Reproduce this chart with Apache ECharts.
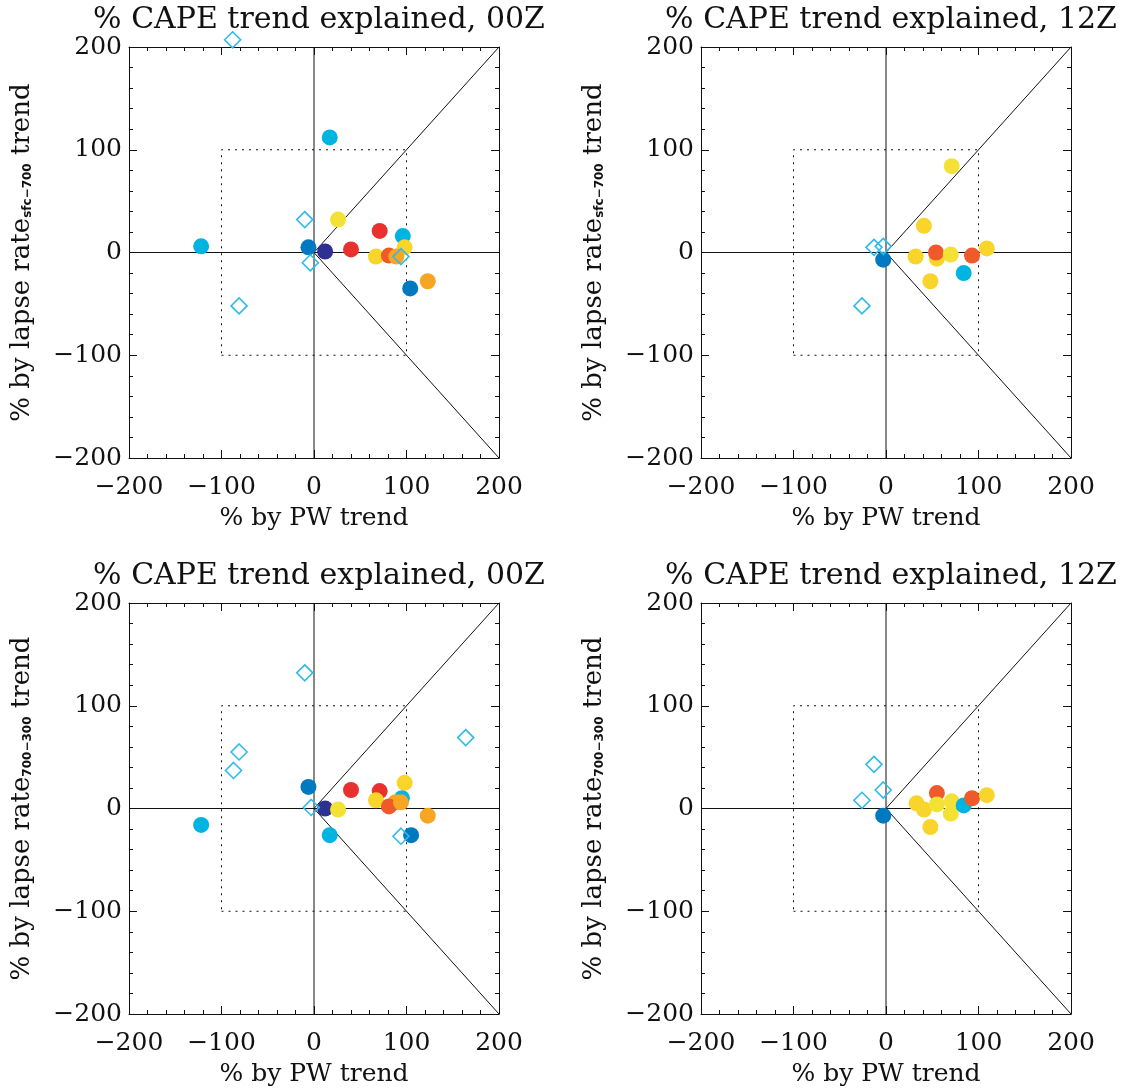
<!DOCTYPE html>
<html><head><meta charset="utf-8">
<script src="https://cdn.jsdelivr.net/npm/echarts@6/dist/echarts.min.js"></script>
<style>html,body{margin:0;padding:0;background:#fff}#c{width:1148px;height:1091px}</style>
</head><body><div id="c"></div>
<script>
// ---- data (x = % by PW trend, y = % by lapse-rate trend, group) ----
const titles = ['% CAPE trend explained, 00Z', '% CAPE trend explained, 12Z', '% CAPE trend explained, 00Z', '% CAPE trend explained, 12Z'];
const layerLabels = ['sfc\u2212700', 'sfc\u2212700', '700\u2212300', '700\u2212300'];
const xName = '% by PW trend';
const tickValues = [-200, -100, 0, 100, 200];

const pts00Low = [
  ['cyan', 17, 112], ['cyan', -122, 6], ['cyan', 96, 16], ['blue', -6, 5], ['blue', 104, -35],
  ['navy', 12, 1], ['red', 71, 21], ['red', 40, 3], ['yellow', 26, 32], ['gold', 67, -4],
  ['gold', 98, 5], ['orangered', 81, -3], ['orange', 89, -4], ['orange', 123, -28]
];
const dia00Low = [[-10, 32], [-4, -10], [-81, -52], [94, -4], [-88, 207]];

const pts12Low = [
  ['yellow', 71, 84], ['gold', 41, 26], ['blue', -3, -7], ['gold', 32, -4], ['gold', 55, -6],
  ['orangered', 54, 0], ['yellow', 70, -2], ['orangered', 93, -3], ['gold', 109, 4],
  ['cyan', 84, -20], ['gold', 48, -28]
];
const dia12Low = [[-13, 5], [-3, 6], [-26, -52]];

const pts00Up = [
  ['blue', -6, 21], ['red', 40, 18], ['red', 71, 17], ['gold', 98, 25], ['gold', 67, 8],
  ['cyan', 95, 10], ['orange', 88, 6], ['orangered', 81, 2], ['orange', 94, 6], ['navy', 12, 0],
  ['yellow', 26, -1], ['orange', 123, -7], ['cyan', -122, -16], ['cyan', 17, -26], ['blue', 105, -26]
];
const dia00Up = [[-10, 132], [-81, 55], [-87, 37], [164, 69], [-3, 1], [94, -27]];

const pts12Up = [
  ['blue', -3, -7], ['orangered', 55, 15], ['gold', 33, 5], ['gold', 41, -1], ['yellow', 55, 4],
  ['yellow', 71, 7], ['yellow', 70, -5], ['cyan', 84, 3], ['orangered', 93, 10], ['gold', 109, 13],
  ['gold', 48, -18]
];
const dia12Up = [[-13, 43], [-3, 18], [-26, 8]];

const panelPts = [pts00Low, pts12Low, pts00Up, pts12Up];
const panelDia = [dia00Low, dia12Low, dia00Up, dia12Up];

// reference geometry (data space)
const zeroH = [[-200, 0], [200, 0]];
const zeroV = [[0, -200], [0, 200]];
const diagUp = [[0, 0], [200, 200]];
const diagDown = [[0, 0], [200, -200]];
const box = [[-100, -100], [100, -100], [100, 100], [-100, 100], [-100, -100]];

// ---- styles ----
const groupColor = {
  cyan: '#00B4E1', blue: '#0079C1', navy: '#2E3192', red: '#E8312F', orangered: '#EF5A2B',
  orange: '#F6A623', yellow: '#F3E235', gold: '#F9D42B'
};
const diaColor = '#2FBBEA';
const FONT = 'DejaVu Serif';
const INK = '#111';
const gridPos = [[129, 47], [701, 47], [129, 603], [701, 603]];
const GW = 370, GH = 411;

const fmt = v => String(v).replace('-', '\u2212');

const grid = [], xAxis = [], yAxis = [], series = [], title = [];
gridPos.forEach((p, i) => {
  grid.push({ left: p[0], top: p[1], width: GW, height: GH, containLabel: false });
  title.push({
    text: titles[i], left: p[0] + GW / 2, top: p[1] - 47, textAlign: 'center',
    textStyle: { fontFamily: FONT, fontSize: 30, fontWeight: 'normal', color: INK }
  });
  const common = {
    type: 'value', min: -200, max: 200, interval: 100, gridIndex: i,
    axisLine: { show: true, onZero: false, lineStyle: { color: INK, width: 1 } },
    axisTick: { show: true, inside: true, length: 8, lineStyle: { color: INK } },
    minorTick: { show: true, splitNumber: 5, length: 4, lineStyle: { color: INK } },
    splitLine: { show: false }, minorSplitLine: { show: false }
  };
  xAxis.push(Object.assign({}, common, {
    position: 'bottom', name: xName, nameLocation: 'middle', nameGap: 48,
    nameTextStyle: { fontFamily: FONT, fontSize: 25, color: INK },
    axisLabel: { fontFamily: FONT, fontSize: 25, color: INK, margin: 17, formatter: fmt }
  }));
  xAxis.push(Object.assign({}, common, { position: 'top', axisLabel: { show: false } }));
  yAxis.push(Object.assign({}, common, {
    position: 'left',
    name: '% by lapse rate{sub|' + layerLabels[i] + '} trend',
    nameLocation: 'middle', nameRotate: 90, nameGap: 94,
    nameTextStyle: {
      fontFamily: FONT, fontSize: 26, color: INK,
      rich: { sub: { fontFamily: 'DejaVu Sans', fontWeight: 'bold', fontSize: 12, color: INK, padding: [11, 0, 0, 0] } }
    },
    axisLabel: { fontFamily: FONT, fontSize: 25, color: INK, margin: 7, formatter: fmt }
  }));
  yAxis.push(Object.assign({}, common, { position: 'right', axisLabel: { show: false } }));

  const xi = i * 2, yi = i * 2;
  const refLine = (d, dash) => ({
    type: 'line', xAxisIndex: xi, yAxisIndex: yi, data: d, symbol: 'none', silent: true,
    lineStyle: { color: INK, width: 1, type: dash ? [2, 5] : 'solid' }, z: 1, animation: false
  });
  series.push(refLine(zeroH), refLine(zeroV), refLine(diagUp), refLine(diagDown), refLine(box, true));

  series.push({
    type: 'scatter', xAxisIndex: xi, yAxisIndex: yi, symbol: 'circle', symbolSize: 16, z: 3,
    clip: false, animation: false,
    data: panelPts[i].map(r => ({ value: [r[1], r[2]], itemStyle: { color: groupColor[r[0]], opacity: 1 } }))
  });
  series.push({
    type: 'scatter', xAxisIndex: xi, yAxisIndex: yi, symbol: 'diamond', symbolSize: 16, z: 4,
    clip: false, animation: false,
    itemStyle: { color: 'rgba(0,0,0,0)', borderColor: diaColor, borderWidth: 1.6, opacity: 1 },
    data: panelDia[i]
  });
});

const chart = echarts.init(document.getElementById('c'), null, { renderer: 'canvas' });
chart.setOption({ animation: false, backgroundColor: '#fff', title, grid, xAxis, yAxis, series });
</script></body></html>
